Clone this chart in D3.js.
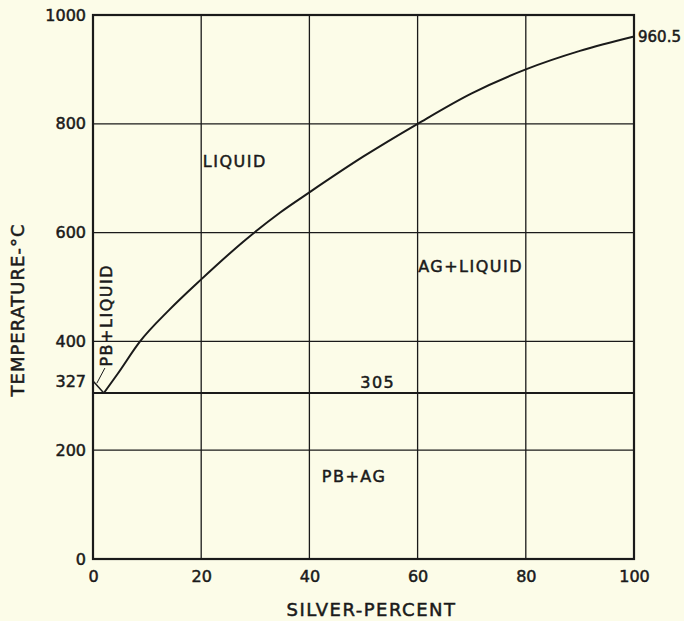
<!DOCTYPE html>
<html>
<head>
<meta charset="utf-8">
<script src="https://cdn.jsdelivr.net/npm/d3@7"></script>
<style>
    body { margin: 0; background: #fcfce8; }
    svg text { font-family: "DejaVu Sans", sans-serif; fill: #1a1a1a; stroke: #1a1a1a; stroke-width: 0.5px; }
</style>
</head>
<body>
<div id="chart"></div>
<script>
// lead-silver phase diagram
const silverTicks = [0, 20, 40, 60, 80, 100];
const tempTicks = [0, 200, 400, 600, 800, 1000];

const liquidusSilver = [2, 4.6, 8.7, 14, 20, 28.1, 34.6, 40, 50, 60, 70, 80, 90, 100];
const liquidusTemp = [305, 341, 400, 457, 514, 586, 637, 674, 740, 800, 856, 900, 934, 960.5];

const leadBranchSilver = [0, 2];
const leadBranchTemp = [327, 305];

const eutecticTemp = 305;
const leadMeltTemp = 327;
const silverMeltTemp = 960.5;

const regionNames = ['LIQUID', 'AG+LIQUID', '305', 'PB+AG'];
const regionSilver = [20.3, 60.1, 49.4, 42.3];
const regionTemp = [730, 537, 325, 151];

const width = 684, height = 621;
const margin = {top: 15, right: 50, bottom: 62, left: 93};
const innerW = width - margin.left - margin.right;
const innerH = height - margin.top - margin.bottom;
const ink = '#1a1a1a';

const svg = d3.select('#chart')
    .append('svg')
    .attr('width', width)
    .attr('height', height);

const g = svg.append('g')
    .attr('transform', `translate(${margin.left},${margin.top})`);

const x = d3.scaleLinear().domain([0, 100]).range([0, innerW]);
const y = d3.scaleLinear().domain([0, 1000]).range([innerH, 0]);

// grid
g.selectAll('.vgrid')
    .data(silverTicks.slice(1, -1))
    .enter()
    .append('line')
    .attr('x1', d => x(d)).attr('x2', d => x(d))
    .attr('y1', 0).attr('y2', innerH)
    .style('stroke', ink).style('stroke-width', 1.3);
g.selectAll('.hgrid')
    .data(tempTicks.slice(1, -1))
    .enter()
    .append('line')
    .attr('x1', 0).attr('x2', innerW)
    .attr('y1', d => y(d)).attr('y2', d => y(d))
    .style('stroke', ink).style('stroke-width', 1.3);

// eutectic line
g.append('line')
    .attr('x1', 0).attr('x2', innerW)
    .attr('y1', y(eutecticTemp)).attr('y2', y(eutecticTemp))
    .style('stroke', ink).style('stroke-width', 2);

// frame
g.append('rect')
    .attr('width', innerW).attr('height', innerH)
    .style('fill', 'none').style('stroke', ink).style('stroke-width', 2.2);

// axes
const xAxis = d3.axisBottom(x).tickValues(silverTicks).tickSize(0).tickPadding(12);
const yAxis = d3.axisLeft(y).tickValues(tempTicks.concat([leadMeltTemp])).tickSize(0).tickPadding(7)
    .tickFormat(d3.format('d'));

const xg = g.append('g').attr('transform', `translate(0,${innerH})`).call(xAxis);
const yg = g.append('g').call(yAxis);
[xg, yg].forEach(a => {
    a.select('.domain').remove();
    a.selectAll('text').style('font-size', '16px')
        .style('font-family', '"DejaVu Sans", sans-serif');
});

// axis titles
g.append('text')
    .attr('x', (285 + 458) / 2 - margin.left)
    .attr('y', innerH + 57)
    .style('text-anchor', 'middle')
    .style('font-size', '18px')
    .style('letter-spacing', '1.5px')
    .text('SILVER-PERCENT');
g.append('text')
    .attr('transform', `translate(${-69},${295}) rotate(-90)`)
    .style('text-anchor', 'middle')
    .style('font-size', '18px')
    .style('letter-spacing', '1px')
    .text('TEMPERATURE-°C');

// liquidus
const line = d3.line()
    .x(d => x(d[0]))
    .y(d => y(d[1]))
    .curve(d3.curveMonotoneX);

g.append('path')
    .attr('d', line(d3.zip(liquidusSilver, liquidusTemp)))
    .style('fill', 'none').style('stroke', ink).style('stroke-width', 2);
g.append('path')
    .attr('d', d3.line().x(d => x(d[0])).y(d => y(d[1]))(d3.zip(leadBranchSilver, leadBranchTemp)))
    .style('fill', 'none').style('stroke', ink).style('stroke-width', 1.5);

// region labels
g.selectAll('.region')
    .data(regionNames)
    .enter()
    .append('text')
    .attr('x', (d, i) => x(regionSilver[i]))
    .attr('y', (d, i) => y(regionTemp[i]))
    .attr('dy', '0.35em')
    .style('font-size', '16px')
    .style('letter-spacing', '1.5px')
    .text(d => d);

// PB+LIQUID label with leader
g.append('text')
    .attr('transform', `translate(${x(2.5)},${y(448)}) rotate(-90)`)
    .attr('dy', '0.35em')
    .style('text-anchor', 'middle')
    .style('font-size', '16px')
    .style('letter-spacing', '1.5px')
    .text('PB+LIQUID');
g.append('line')
    .attr('x1', x(2.2)).attr('y1', y(351))
    .attr('x2', x(0.7)).attr('y2', y(323))
    .style('stroke', ink).style('stroke-width', 1);

// melting point of silver
g.append('text')
    .attr('x', x(100) + 4)
    .attr('y', y(silverMeltTemp))
    .attr('dy', '0.35em')
    .style('font-size', '15px')
    .text(d3.format('.1f')(silverMeltTemp));
</script>
</body>
</html>
